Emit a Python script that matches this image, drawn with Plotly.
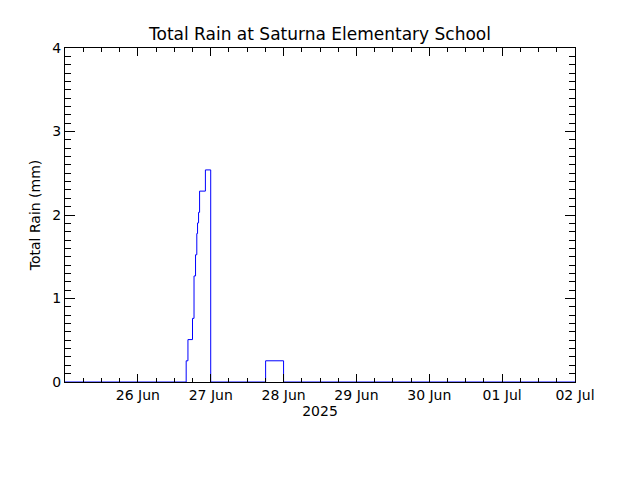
import plotly.graph_objects as go

# Data (step series, value takes effect at the listed time)
times = [
    "2025-06-25 00:00", "2025-06-26 15:55", "2025-06-26 16:30", "2025-06-26 18:00",
    "2025-06-26 18:30", "2025-06-26 19:00", "2025-06-26 19:25", "2025-06-26 19:40",
    "2025-06-26 20:00", "2025-06-26 20:20", "2025-06-26 22:15", "2025-06-27 00:00",
    "2025-06-27 18:05", "2025-06-28 00:00", "2025-07-02 00:00",
]
rain_mm = [
    0.0, 0.254, 0.508, 0.762,
    1.27, 1.524, 1.778, 1.905,
    2.032, 2.286, 2.54, 0.0,
    0.254, 0.0, 0.0,
]

tick_vals = ["2025-06-26", "2025-06-27", "2025-06-28", "2025-06-29",
             "2025-06-30", "2025-07-01", "2025-07-02"]
tick_text = ["26 Jun", "27 Jun", "28 Jun", "29 Jun", "30 Jun", "01 Jul", "02 Jul"]

x_range = ["2025-06-25 00:00", "2025-07-02 00:00"]
y_range = [0, 4]

FONT = "DejaVu Sans"

fig = go.Figure()
fig.add_trace(go.Scatter(
    x=times, y=rain_mm, mode="lines",
    line=dict(color="#0000ff", width=1, shape="hv"),
    showlegend=False, hoverinfo="skip",
))

fig.update_layout(
    width=640, height=480,
    margin=dict(l=65, r=65, t=48, b=98),
    paper_bgcolor="white", plot_bgcolor="white",
    font=dict(family=FONT, size=14, color="black"),
    title=dict(text="Total Rain at Saturna Elementary School",
               x=0.5, xanchor="center", y=1 - 34 / 480, yanchor="middle",
               font=dict(family=FONT, size=17, color="black")),
)

fig.update_xaxes(
    range=x_range, type="date",
    tickmode="array", tickvals=tick_vals, ticktext=tick_text,
    ticks="inside", ticklen=8, tickwidth=1, tickcolor="black",
    minor=dict(dtick=6 * 3600 * 1000, tick0="2025-06-25", ticks="inside",
               ticklen=4, tickwidth=1, tickcolor="black", showgrid=False),
    showline=True, linecolor="black", linewidth=1, mirror="ticks",
    showgrid=False, zeroline=False,
    title=dict(text="2025", standoff=0, font=dict(family=FONT, size=14)),
    tickfont=dict(family=FONT, size=14),
)

fig.update_yaxes(
    range=y_range, dtick=1, tick0=0,
    ticks="inside", ticklen=10, tickwidth=1, tickcolor="black",
    minor=dict(dtick=0.1, ticks="inside", ticklen=6, tickwidth=1,
               tickcolor="black", showgrid=False),
    showline=True, linecolor="black", linewidth=1, mirror="ticks",
    showgrid=False, zeroline=False,
    title=dict(text="Total Rain (mm)", standoff=8, font=dict(family=FONT, size=14)),
    tickfont=dict(family=FONT, size=14),
)

fig.write_html("out.html", config={"displayModeBar": False},
               post_script="document.body.style.margin='0px';")
